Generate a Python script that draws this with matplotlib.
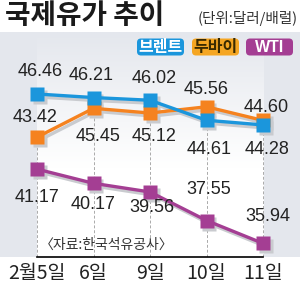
import numpy as np
import matplotlib
matplotlib.use("Agg")
import matplotlib.pyplot as plt
from matplotlib.patches import FancyBboxPatch
from matplotlib.transforms import ScaledTranslation

# ---- data ----
dates = ["2월5일", "6일", "9일", "10일", "11일"]
brent = [46.46, 46.21, 46.02, 44.61, 44.28]
dubai = [43.42, 45.45, 45.12, 45.56, 44.60]
wti = [41.17, 40.17, 39.56, 37.55, 35.94]
series_names = ["브렌트", "두바이", "WTI"]

# ---- label offsets (pixels: dx, dy up positive) ----
brent_off = [(3, 22), (-2, 22), (4, 22), (3, -29), (4, -25)]
dubai_off = [(-2, 20), (5, -28), (4, -23), (0, 17), (3, 13)]
wti_off = [(0, -28), (0, -21), (2, -16), (2, 31), (5, 27)]

W, H = 300, 292
fig = plt.figure(figsize=(W / 100, H / 100), dpi=100)
fig.patch.set_facecolor("white")

KR = ["Noto Sans CJK KR", "DejaVu Sans"]
NUM = ["Liberation Sans", "DejaVu Sans"]

gray_bg = "#e4e7ed"
c_brent = "#1b96dc"
c_dubai = "#f5821f"
c_wti = "#a43e93"

# main axes: pixel y 32..257, full width
top_px, bot_px = 32, 257
ax = fig.add_axes([0, (H - bot_px) / H, 1, (bot_px - top_px) / H])
ax.set_facecolor(gray_bg)
px_per_unit = 14.2
ref_v, ref_px = 46.46, 94
ytop = ref_v + (ref_px - top_px) / px_per_unit
ybot = ref_v - (bot_px - ref_px) / px_per_unit
x0_px, dx_px = 37, 56.5
xs = np.arange(len(dates))

# inner gradient (gray at top -> white lower)
g = np.linspace(0, 1, 200)
rows = np.clip(g / 0.6, 0, 1)
c_top = np.array(matplotlib.colors.to_rgb(gray_bg))
c_bot = np.array([1, 1, 1])
grad = (c_top[None, :] * (1 - rows[:, None]) + c_bot[None, :] * rows[:, None])[:, None, :]
ax.imshow(grad, extent=[xs[0], xs[-1], ybot, ytop], aspect="auto", zorder=0,
          origin="upper", interpolation="bilinear")
ax.set_xlim(-x0_px / dx_px, (W - x0_px) / dx_px)
ax.set_ylim(ybot, ytop)

for s in ["top", "left", "right"]:
    ax.spines[s].set_visible(False)
ax.spines["bottom"].set_bounds(xs[0], xs[-1])
ax.spines["bottom"].set_linewidth(1.2)
ax.spines["bottom"].set_color("black")
ax.spines["bottom"].set_zorder(5)
ax.set_yticks([])
ax.set_xticks(xs)
ax.set_xticklabels(dates, fontfamily=KR, fontsize=14, color="#222222")
ax.tick_params(axis="x", length=0, pad=4)

# dashed vertical guides
ax.vlines(xs, ybot, np.minimum(brent, dubai), colors="#aaaaaa", linestyles=(0, (3, 2)),
          linewidth=0.7, zorder=1)

shadow_tr = ax.transData + ScaledTranslation(0.025, -0.03, fig.dpi_scale_trans)
for vals, col, offs in [(wti, c_wti, wti_off), (dubai, c_dubai, dubai_off), (brent, c_brent, brent_off)]:
    ax.plot(xs, vals, color="#c9cbcf", lw=2.4, marker="s", ms=10, mec="none",
            transform=shadow_tr, zorder=2, solid_joinstyle="miter")
    ax.plot(xs, vals, color=col, lw=2.4, marker="s", ms=10, mec="none", zorder=3)
    for x, v, (ox, oy) in zip(xs, vals, offs):
        ax.annotate(f"{v:.2f}", (x, v), xytext=(ox * 0.72, oy * 0.72), textcoords="offset points",
                    ha="center", va="center", fontsize=13, fontfamily=NUM, color="#222222", zorder=6)

# overlay axes in pixel coords for decorations
ov = fig.add_axes([0, 0, 1, 1])
ov.set_xlim(0, W)
ov.set_ylim(H, 0)
ov.axis("off")
ov.patch.set_alpha(0)

ov.text(5, 16, "국제유가 추이", fontfamily=KR, fontsize=20, fontweight=900,
        ha="left", va="center", color="#1a1a1a")
ov.text(298, 18, "(단위:달러/배럴)", fontfamily=KR, fontsize=10.5, ha="right", va="center",
        color="#333333")

legend_specs = [
    (series_names[0], 137, c_brent, "white"),
    (series_names[1], 192, "#f5a623", "#3a2a00"),
    (series_names[2], 246, c_wti, "white"),
]
for name, lx, fc, tc in legend_specs:
    box = FancyBboxPatch((lx, 38.5), 47, 17, boxstyle="round,pad=0,rounding_size=4",
                         fc=fc, ec="none")
    ov.add_patch(box)
    ov.text(lx + 23.5, 47, name, fontfamily=KR if name != "WTI" else NUM, fontsize=11.5,
            fontweight="bold", ha="center", va="center", color=tc)

ov.text(40, 245, "〈자료:한국석유공사〉", fontfamily=KR, fontsize=10, ha="left", va="center",
        color="#333333")

fig.savefig("out.png", dpi=100)
